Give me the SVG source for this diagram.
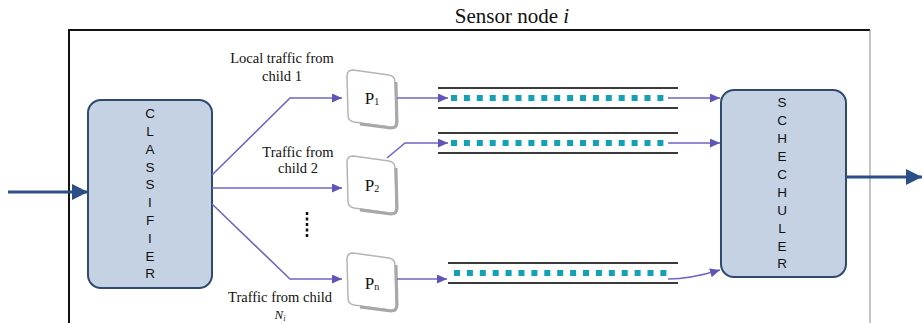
<svg xmlns="http://www.w3.org/2000/svg" width="922" height="323" viewBox="0 0 922 323">
<style>
.serif{font-family:"Liberation Serif","Times New Roman",serif;fill:#111}
.sans{font-family:"Liberation Sans",Arial,sans-serif;font-size:13.5px;fill:#111;text-anchor:middle}
.lbl{font-size:14.5px;text-anchor:middle}
.box{fill:#c4d2e4;stroke:#2e4a70;stroke-width:2}
.conn{fill:none;stroke:#6f66c2;stroke-width:1.6}
.pface{fill:#fff;stroke:#b4b4b4;stroke-width:1.5}
.pshade{fill:none;stroke:#a8a8a8;stroke-width:3}
.qline{stroke:#3a3a3a;stroke-width:2}
.sq{fill:#14a0b6}
.big{stroke:#2b4f86;stroke-width:3;fill:none}
</style>
<defs>
<marker id="pa" markerUnits="userSpaceOnUse" markerWidth="10" markerHeight="9" refX="10" refY="4.5" orient="auto">
<path d="M0,0 L10,4.5 L0,9 z" fill="#5e55b8"/>
</marker>
<marker id="ba" markerUnits="userSpaceOnUse" markerWidth="16" markerHeight="16" refX="16" refY="8" orient="auto">
<path d="M0,0 L16,8 L0,16 z" fill="#2b4f86"/>
</marker>
<path id="pbox" d="M6,0 L42,5 Q48,6 48,12 L49,52 Q49,58 43,57 L7,52 Q1,51 1,45 L0,6 Q0,0 6,0 Z"/>
<g id="sqrow">
<rect x="0" y="-3" width="6" height="6"/><rect x="12.9" y="-3" width="6" height="6"/><rect x="25.8" y="-3" width="6" height="6"/><rect x="38.7" y="-3" width="6" height="6"/><rect x="51.6" y="-3" width="6" height="6"/><rect x="64.5" y="-3" width="6" height="6"/><rect x="77.4" y="-3" width="6" height="6"/><rect x="90.3" y="-3" width="6" height="6"/><rect x="103.2" y="-3" width="6" height="6"/><rect x="116.1" y="-3" width="6" height="6"/><rect x="129" y="-3" width="6" height="6"/><rect x="141.9" y="-3" width="6" height="6"/><rect x="154.8" y="-3" width="6" height="6"/><rect x="167.7" y="-3" width="6" height="6"/><rect x="180.6" y="-3" width="6" height="6"/><rect x="193.5" y="-3" width="6" height="6"/><rect x="206.4" y="-3" width="6" height="6"/>
</g>
</defs>
<rect width="922" height="323" fill="#fff"/>

<g id="frame">
<line x1="69" y1="30" x2="870" y2="30" stroke="#111" stroke-width="2"/>
<line x1="69" y1="29" x2="69" y2="323" stroke="#111" stroke-width="2"/>
<line x1="870" y1="30" x2="870" y2="323" stroke="#888" stroke-width="1"/>
<text class="serif" x="512" y="23" font-size="21" text-anchor="middle">Sensor node <tspan font-style="italic">i</tspan></text>
</g>

<g id="classifier">
<rect class="box" x="88" y="100" width="124" height="188" rx="13"/>
<text class="sans" x="150" y="118">C</text>
<text class="sans" x="150" y="136">L</text>
<text class="sans" x="150" y="154">A</text>
<text class="sans" x="150" y="172">S</text>
<text class="sans" x="150" y="189">S</text>
<text class="sans" x="150" y="207">I</text>
<text class="sans" x="150" y="225">F</text>
<text class="sans" x="150" y="243">I</text>
<text class="sans" x="150" y="261">E</text>
<text class="sans" x="150" y="278">R</text>
</g>

<g id="scheduler">
<rect class="box" x="721" y="90" width="125" height="187" rx="13"/>
<text class="sans" x="782" y="107">S</text>
<text class="sans" x="782" y="125">C</text>
<text class="sans" x="782" y="143">H</text>
<text class="sans" x="782" y="161">E</text>
<text class="sans" x="782" y="179">C</text>
<text class="sans" x="782" y="197">H</text>
<text class="sans" x="782" y="215">U</text>
<text class="sans" x="782" y="233">L</text>
<text class="sans" x="782" y="251">E</text>
<text class="sans" x="782" y="268">R</text>
</g>

<g id="p1">
<use href="#pbox" x="347" y="70" class="pface"/>
<path class="pshade" d="M396,82 L397,122 Q397,128 391,128 L360,124"/>
<text class="serif" x="372" y="104" font-size="17" text-anchor="middle">P<tspan font-size="10" dy="1">1</tspan></text>
</g>
<g id="p2">
<use href="#pbox" x="347" y="156" class="pface"/>
<path class="pshade" d="M396,168 L397,208 Q397,214 391,214 L360,210"/>
<text class="serif" x="372" y="191" font-size="17" text-anchor="middle">P<tspan font-size="10" dy="1">2</tspan></text>
</g>
<g id="pn">
<use href="#pbox" x="347" y="253" class="pface"/>
<path class="pshade" d="M396,265 L397,305 Q397,311 391,311 L360,307"/>
<text class="serif" x="372" y="289" font-size="17" text-anchor="middle">P<tspan font-size="10" dy="1">n</tspan></text>
</g>

<g id="queue1">
<line class="qline" x1="438" y1="88" x2="678" y2="88"/>
<line class="qline" x1="438" y1="108" x2="678" y2="108"/>
<use href="#sqrow" x="451" y="98" class="sq"/>
</g>
<g id="queue2">
<line class="qline" x1="438" y1="133" x2="678" y2="133"/>
<line class="qline" x1="438" y1="153" x2="678" y2="153"/>
<use href="#sqrow" x="451" y="143" class="sq"/>
</g>
<g id="queue3">
<line class="qline" x1="448" y1="263" x2="678" y2="263"/>
<line class="qline" x1="448" y1="283" x2="678" y2="283"/>
<use href="#sqrow" x="454" y="273" class="sq"/>
</g>

<g id="labels">
<text class="serif lbl" x="282" y="63">Local traffic from</text>
<text class="serif lbl" x="282" y="81">child 1</text>
<text class="serif lbl" x="298" y="157">Traffic from</text>
<text class="serif lbl" x="298" y="173">child 2</text>
<text class="serif lbl" x="280" y="302">Traffic from child</text>
<text class="serif" x="280" y="319" font-size="13" text-anchor="middle" font-style="italic">N<tspan font-size="8" dy="1.5">i</tspan></text>
</g>

<g id="connectors">
<line class="big" x1="8" y1="192" x2="88" y2="192" marker-end="url(#ba)"/>
<line class="big" x1="846" y1="177" x2="922" y2="177" marker-end="url(#ba)"/>
<path class="conn" d="M212,175 L290,98 L342,98" marker-end="url(#pa)"/>
<path class="conn" d="M212,188 L342,188" marker-end="url(#pa)"/>
<path class="conn" d="M212,204 L290,279 L342,279" marker-end="url(#pa)"/>
<path class="conn" d="M397,98 L448,98" marker-end="url(#pa)"/>
<path class="conn" d="M387,158 L405,143 L448,143" marker-end="url(#pa)"/>
<path class="conn" d="M397,279 L447,279" marker-end="url(#pa)"/>
<path class="conn" d="M668,98 L720,98" marker-end="url(#pa)"/>
<path class="conn" d="M668,143 L720,143" marker-end="url(#pa)"/>
<path class="conn" d="M668,279 Q690,279 720,270" marker-end="url(#pa)"/>
<line x1="307" y1="212" x2="307" y2="238" stroke="#111" stroke-width="2.5" stroke-dasharray="3,2.5"/>
</g>
</svg>
